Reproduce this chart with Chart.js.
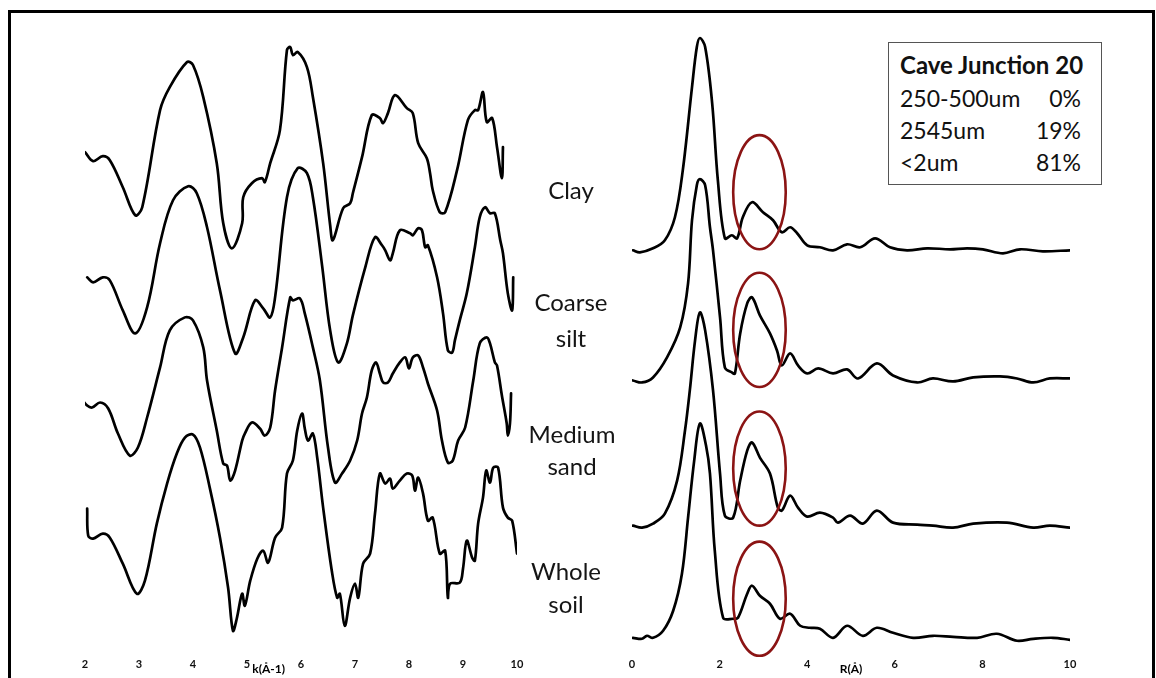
<!DOCTYPE html>
<html>
<head>
<meta charset="utf-8">
<script src="https://cdn.jsdelivr.net/npm/chart.js@4.4.1/dist/chart.umd.min.js"></script>
<style>
  html, body { margin: 0; padding: 0; background: #fff; }
  #page { position: relative; width: 1156px; height: 678px; overflow: hidden; background: #fff; }
  #frame { position: absolute; left: 8px; top: 10px; width: 1141px; height: 700px;
           border-left: 3px solid #000; border-top: 3px solid #000; border-right: 3px solid #000; }
  #kWrap { position: absolute; left: 0; top: 0; }
  #rWrap { position: absolute; left: 580px; top: 0; }
  .sample { position: absolute; font-family: Lato, "Open Sans", sans-serif; font-size: 24px;
            color: #151515; text-align: center; line-height: 1; transform: translate(-50%, -50%); white-space: nowrap; }
  #legendBox { position: absolute; left: 888px; top: 42px; width: 212px; height: 141px;
               border: 1px solid #555; background: #fff; font-family: Lato, "Open Sans", sans-serif; color: #111; }
  #legendBox .title { position: absolute; left: 11px; top: 7px; font-size: 24px; font-weight: bold; white-space: nowrap; }
  #legendBox .row { position: absolute; left: 11px; width: 181px; font-size: 23px; white-space: nowrap; }
  #legendBox .row span.v { position: absolute; right: 0; }
</style>
</head>
<body>
<div id="page">
  <div id="frame"></div>
  <div id="kWrap"><canvas id="kChart" width="560" height="678"></canvas></div>
  <div id="rWrap"><canvas id="rChart" width="576" height="678"></canvas></div>
  <div id="labels"></div>
  <div id="legendBox"></div>
</div>
<script>
// ---- k-space spectra (k in Å^-1, stacked chi(k) in arbitrary units) ----
const kClay = [2.00,2.15,2.33,2.46,2.70,2.93,3.06,3.39,3.57,3.89,4.00,4.19,4.44,4.56,4.72,4.91,4.93,5.09,5.28,5.33,5.43,5.61,5.74,5.80,5.85,5.94,6.11,6.22,6.41,6.54,6.59,6.78,6.91,6.96,7.13,7.31,7.46,7.52,7.61,7.74,7.96,8.07,8.17,8.33,8.39,8.44,8.57,8.67,8.89,9.09,9.22,9.28,9.37,9.44,9.54,9.63,9.72,9.74];
const chiClay = [49.8,48.9,49.4,49.0,46.3,43.5,44.3,54.0,56.3,58.8,58.5,55.3,48.7,42.7,40.2,42.7,45.3,46.7,47.2,46.8,48.7,52.0,60.0,60.3,59.5,59.8,58.3,55.3,48.7,42.5,41.0,44.2,44.7,45.7,49.3,53.5,53.2,52.7,53.7,55.5,54.2,53.7,50.7,49.2,47.7,46.0,43.8,43.8,48.0,53.0,54.0,54.0,55.8,52.8,53.2,50.3,47.2,50.3];

const kCoarse = [2.04,2.15,2.33,2.46,2.70,2.93,3.15,3.39,3.63,3.91,4.07,4.26,4.50,4.78,4.93,5.15,5.30,5.43,5.52,5.74,5.94,6.11,6.22,6.39,6.54,6.69,6.85,6.96,7.19,7.37,7.50,7.56,7.65,7.70,7.83,8.02,8.07,8.17,8.24,8.30,8.35,8.52,8.63,8.72,8.80,8.85,8.94,9.07,9.22,9.31,9.41,9.50,9.59,9.69,9.74,9.83,9.91,9.93];
const chiCoarse = [37.3,36.8,37.3,37.0,34.0,31.7,34.3,40.7,45.0,46.4,45.7,42.3,36.0,29.7,31.3,35.0,34.2,33.3,35.3,45.3,48.2,47.7,45.3,38.5,32.0,28.8,30.7,33.5,38.3,41.3,40.5,40.0,39.0,39.7,42.0,41.7,41.5,42.2,42.0,40.3,40.5,37.3,33.7,30.0,29.8,31.0,33.0,35.7,40.3,43.3,44.3,43.7,43.7,41.0,39.7,35.7,34.0,37.3];

const kMedium = [1.93,2.04,2.13,2.28,2.43,2.61,2.83,2.98,3.15,3.39,3.57,3.85,4.00,4.19,4.26,4.44,4.56,4.63,4.69,4.78,4.91,4.96,5.09,5.24,5.33,5.43,5.52,5.65,5.80,5.85,5.98,6.07,6.22,6.35,6.50,6.63,6.76,6.91,7.04,7.13,7.22,7.31,7.39,7.46,7.52,7.61,7.70,7.83,7.93,8.00,8.07,8.17,8.26,8.35,8.52,8.61,8.72,8.81,8.91,9.04,9.19,9.31,9.44,9.50,9.59,9.63,9.72,9.81,9.83,9.87,9.89];
const chiMedium = [25.2,24.5,24.3,24.8,24.2,21.7,19.5,20.3,23.3,28.3,32.0,33.3,33.0,30.3,27.0,22.0,18.7,18.5,17.0,18.0,21.0,21.7,22.8,22.2,21.5,22.3,26.0,30.3,35.3,35.0,35.2,33.7,30.3,27.0,20.3,16.8,17.7,19.0,21.0,23.7,25.3,28.0,28.8,27.7,26.8,26.8,27.7,28.8,29.3,28.2,29.3,29.5,28.3,26.7,24.0,21.0,18.8,19.0,21.0,22.3,27.0,30.7,31.3,30.7,28.8,28.5,25.5,22.7,21.5,22.7,25.7];

const kWhole = [2.04,2.06,2.15,2.33,2.46,2.70,2.96,3.11,3.33,3.52,3.70,3.85,4.00,4.13,4.31,4.50,4.65,4.74,4.81,4.91,4.96,5.06,5.19,5.30,5.39,5.52,5.65,5.74,5.85,5.93,6.02,6.07,6.13,6.22,6.30,6.41,6.57,6.67,6.72,6.81,6.91,7.00,7.06,7.15,7.28,7.37,7.46,7.56,7.65,7.70,7.83,7.96,8.06,8.11,8.17,8.26,8.35,8.44,8.57,8.67,8.72,8.76,8.94,9.00,9.07,9.17,9.22,9.28,9.37,9.43,9.50,9.56,9.65,9.74,9.83,9.91,10.00];
const chiWhole = [14.2,11.5,11.2,11.7,11.3,8.7,5.7,7.0,12.7,16.7,19.7,21.3,21.6,20.3,16.3,11.3,6.3,2.0,3.2,5.7,4.5,7.0,9.2,10.0,8.8,11.3,12.3,17.7,19.0,22.0,23.7,22.2,21.0,21.7,19.3,14.3,8.0,5.3,5.7,2.5,5.3,6.7,5.3,8.7,9.7,13.7,17.7,16.7,17.2,16.2,17.0,17.7,17.5,16.0,17.3,15.7,13.0,13.3,9.7,10.0,5.3,6.7,6.8,8.2,11.0,9.3,9.0,12.7,15.3,18.0,16.8,18.3,18.3,14.3,13.3,13.0,9.7];

// ---- R-space Fourier transforms (R in Å, stacked magnitude) ----
const rClay = [0.02,0.18,0.48,0.75,0.98,1.16,1.37,1.48,1.55,1.67,1.83,1.96,2.12,2.28,2.40,2.53,2.74,2.99,3.22,3.42,3.61,3.77,4.00,4.29,4.59,4.91,5.21,5.55,5.89,6.28,6.74,7.26,7.65,8.01,8.47,8.86,9.38,10.00];
const ftClay = [40.0,39.8,40.2,41.0,43.3,48.0,56.3,60.3,61.2,60.3,54.7,47.0,41.2,41.5,41.2,43.3,44.8,43.8,43.0,41.8,42.3,41.7,40.5,40.3,40.0,40.6,40.3,41.2,40.3,40.0,40.2,40.1,40.2,40.1,39.7,40.1,39.9,40.0];

const rCoarse = [0.02,0.23,0.48,0.80,1.10,1.28,1.37,1.48,1.55,1.67,1.78,1.85,2.01,2.12,2.28,2.35,2.47,2.63,2.74,2.92,3.15,3.31,3.42,3.61,3.79,4.00,4.25,4.59,4.91,5.16,5.59,5.96,6.51,6.87,7.33,7.79,8.40,8.79,9.16,9.54,10.00];
const ftCoarse = [27.0,26.8,27.3,29.3,32.3,36.7,43.0,46.5,47.1,46.5,42.3,40.0,33.3,28.3,27.8,27.7,31.7,34.7,35.3,33.5,31.7,30.0,28.5,29.7,28.5,27.7,28.2,27.7,28.1,27.2,28.7,27.5,26.8,27.2,26.9,27.3,27.4,27.2,26.8,27.2,27.2];

const rMedium = [0.02,0.23,0.48,0.75,1.03,1.21,1.32,1.44,1.55,1.67,1.85,2.01,2.12,2.31,2.47,2.63,2.74,2.92,3.15,3.33,3.42,3.61,3.79,4.00,4.29,4.59,4.70,4.98,5.27,5.59,5.96,6.51,6.87,7.33,7.79,8.56,9.16,9.54,10.00];
const ftMedium = [12.5,12.3,12.7,13.7,17.0,22.0,26.0,31.0,33.8,32.0,26.0,17.7,13.5,13.3,17.0,20.0,20.8,19.3,17.7,14.3,14.0,15.5,14.3,13.4,13.8,13.3,12.8,13.5,12.7,14.0,12.8,12.6,12.5,12.3,12.7,12.8,12.3,12.5,12.3];

const rWhole = [0.02,0.23,0.34,0.48,0.71,0.94,1.14,1.28,1.42,1.55,1.69,1.78,1.89,2.08,2.31,2.42,2.63,2.74,2.92,3.15,3.38,3.61,3.84,4.06,4.29,4.59,4.91,5.27,5.59,5.96,6.42,6.87,7.33,7.88,8.33,8.79,9.16,9.61,10.00];
const ftWhole = [1.3,1.2,1.5,1.3,2.0,4.0,7.7,13.3,19.0,22.7,20.5,17.7,10.0,3.3,3.2,3.3,5.7,6.5,5.5,4.7,3.2,3.7,2.5,2.3,2.2,1.3,2.5,1.5,2.3,1.8,1.3,1.5,1.4,1.3,1.7,1.0,1.2,1.3,1.1];

// ---- axis ticks, sample names and size-fraction table ----
const kTicks = [2, 3, 4, 5, 6, 7, 8, 9, 10];
const rTicks = [0, 2, 4, 6, 8, 10];
const sampleNames = [["Clay"], ["Coarse", "silt"], ["Medium", "sand"], ["Whole", "soil"]];
const tableTitle = "Cave Junction 20";
const fractionNames = ["250-500um", "2545um", "<2um"];
const fractionShares = ["0%", "19%", "81%"];

// second-shell highlight: centre in R and stacked magnitude for each spectrum
const shellCentreR = 2.91;
const shellHalfWidthR = 0.6;
const shellCentres = [45.8, 32.05, 18.2, 5.2];
const shellHalfHeight = 5.7;

const tickFont = { family: "Lato, 'Open Sans', sans-serif", size: 11, weight: 'bold' };

function series(xs, ys) { return xs.map((x, i) => ({ x: x, y: ys[i] })); }

function lineSet(xs, ys) {
  return {
    data: series(xs, ys),
    borderColor: '#000',
    borderWidth: 2.7,
    pointRadius: 0,
    fill: false,
    tension: 0.35,
    borderCapStyle: 'round',
    borderJoinStyle: 'round'
  };
}

// writes an axis caption at a given data position under the x axis
function axisCaption(text, atValue) {
  return {
    id: 'caption_' + text,
    afterDraw(chart) {
      const xs = chart.scales.x;
      const ctx = chart.ctx;
      ctx.save();
      ctx.font = "bold 12px Lato, 'Open Sans', sans-serif";
      ctx.fillStyle = '#000';
      ctx.textAlign = 'center';
      ctx.textBaseline = 'middle';
      ctx.fillText(text, xs.getPixelForValue(atValue), chart.chartArea.bottom + 18);
      ctx.restore();
    }
  };
}

const shellRings = {
  id: 'shellRings',
  afterDatasetsDraw(chart) {
    const xs = chart.scales.x, ys = chart.scales.y, ctx = chart.ctx;
    const cx = xs.getPixelForValue(shellCentreR);
    const rx = Math.abs(xs.getPixelForValue(shellCentreR + shellHalfWidthR) - cx);
    ctx.save();
    ctx.strokeStyle = '#8b1414';
    ctx.lineWidth = 2.6;
    shellCentres.forEach(c => {
      const cy = ys.getPixelForValue(c);
      const ry = Math.abs(ys.getPixelForValue(c + shellHalfHeight) - cy);
      ctx.beginPath();
      ctx.ellipse(cx, cy, rx, ry, 0, 0, Math.PI * 2);
      ctx.stroke();
    });
    ctx.restore();
  }
};

function baseOptions(xmin, xmax, ticks, padL, padR) {
  return {
    responsive: false,
    animation: false,
    devicePixelRatio: 1,
    layout: { padding: { left: padL, right: padR, top: 20, bottom: 0 } },
    plugins: { legend: { display: false }, tooltip: { enabled: false } },
    scales: {
      x: {
        type: 'linear', min: xmin, max: xmax,
        afterBuildTicks(scale) { scale.ticks = ticks.map(v => ({ value: v })); },
        ticks: { font: tickFont, color: '#111', padding: 7, maxRotation: 0, autoSkip: false },
        grid: { display: false, drawTicks: false },
        border: { display: false }
      },
      y: { display: false, min: 0, max: 63 }
    }
  };
}

new Chart(document.getElementById('kChart'), {
  type: 'line',
  data: { datasets: [lineSet(kClay, chiClay), lineSet(kCoarse, chiCoarse), lineSet(kMedium, chiMedium), lineSet(kWhole, chiWhole)] },
  options: baseOptions(2, 10, kTicks, 85, 43),
  plugins: [axisCaption('k(Å-1)', 5.4)]
});

new Chart(document.getElementById('rChart'), {
  type: 'line',
  data: { datasets: [lineSet(rClay, ftClay), lineSet(rCoarse, ftCoarse), lineSet(rMedium, ftMedium), lineSet(rWhole, ftWhole)] },
  options: baseOptions(0, 10, rTicks, 52, 86),
  plugins: [shellRings, axisCaption('R(Å)', 5.0)]
});

// sample names between the two panels
const labelSpots = [[571, [190]], [571, [302, 338]], [572, [434, 466]], [566, [571, 604]]];
const labelsDiv = document.getElementById('labels');
sampleNames.forEach((lines, i) => {
  lines.forEach((t, j) => {
    const d = document.createElement('div');
    d.className = 'sample';
    d.textContent = t;
    d.style.left = labelSpots[i][0] + 'px';
    d.style.top = labelSpots[i][1][j] + 'px';
    labelsDiv.appendChild(d);
  });
});

// size-fraction table
const box = document.getElementById('legendBox');
const title = document.createElement('div');
title.className = 'title';
title.textContent = tableTitle;
box.appendChild(title);
fractionNames.forEach((n, i) => {
  const r = document.createElement('div');
  r.className = 'row';
  r.style.top = (41 + i * 32) + 'px';
  const a = document.createElement('span'); a.textContent = n;
  const b = document.createElement('span'); b.className = 'v'; b.textContent = fractionShares[i];
  r.appendChild(a); r.appendChild(b);
  box.appendChild(r);
});
</script>
</body>
</html>
